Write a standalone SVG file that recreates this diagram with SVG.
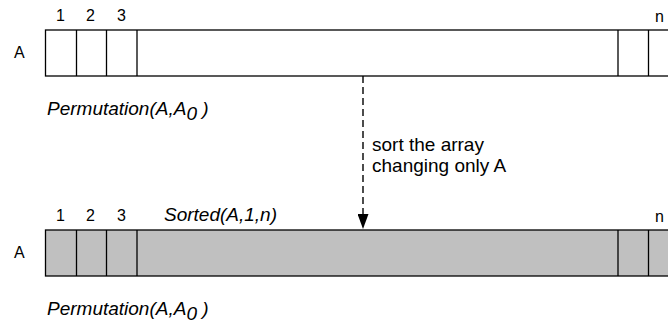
<svg xmlns="http://www.w3.org/2000/svg" width="668" height="324" viewBox="0 0 668 324">
  <style>
    .lbl { font-family: "Liberation Sans", Arial, sans-serif; font-size: 16px; fill: #000; }
    .note { font-family: "Liberation Sans", Arial, sans-serif; font-size: 19px; fill: #000; }
    .it { font-family: "Liberation Sans", Arial, sans-serif; font-style: italic; font-size: 19px; fill: #000; }
    .cell { stroke: #000; stroke-width: 1.3; }
    .empty { fill: #fff; }
    .sorted { fill: #c0c0c0; }
    .conn { stroke: #000; stroke-width: 1.4; fill: none; stroke-dasharray: 7 4; }
  </style>
  <defs>
    <marker id="arrow" markerWidth="15" markerHeight="11" refX="15" refY="5.5" orient="auto" markerUnits="userSpaceOnUse" viewBox="0 0 15 11">
      <path d="M0,0 L15,5.5 L0,11 Z" fill="#000"/>
    </marker>
  </defs>

  <!-- Array before sorting -->
  <g id="array-before">
    <rect class="cell empty" x="45.5" y="30" width="640" height="46"/>
    <line class="cell" x1="76.5" y1="30" x2="76.5" y2="76"/>
    <line class="cell" x1="106.5" y1="30" x2="106.5" y2="76"/>
    <line class="cell" x1="137" y1="30" x2="137" y2="76"/>
    <line class="cell" x1="618" y1="30" x2="618" y2="76"/>
    <line class="cell" x1="648.5" y1="30" x2="648.5" y2="76"/>
    <text class="lbl" x="14" y="58">A</text>
    <text class="lbl" x="56" y="21">1</text>
    <text class="lbl" x="86" y="21">2</text>
    <text class="lbl" x="117" y="21">3</text>
    <text class="lbl" x="655" y="22">n</text>
    <text class="it" x="47" y="115">Permutation(A,A<tspan dy="5">0</tspan><tspan dy="-5"> )</tspan></text>
  </g>

  <!-- Array after sorting -->
  <g id="array-after">
    <rect class="cell sorted" x="45.5" y="230" width="640" height="46"/>
    <line class="cell" x1="76.5" y1="230" x2="76.5" y2="276"/>
    <line class="cell" x1="106.5" y1="230" x2="106.5" y2="276"/>
    <line class="cell" x1="137" y1="230" x2="137" y2="276"/>
    <line class="cell" x1="618" y1="230" x2="618" y2="276"/>
    <line class="cell" x1="648.5" y1="230" x2="648.5" y2="276"/>
    <text class="lbl" x="14" y="258">A</text>
    <text class="lbl" x="56" y="221">1</text>
    <text class="lbl" x="86" y="221">2</text>
    <text class="lbl" x="117" y="221">3</text>
    <text class="lbl" x="655" y="222">n</text>
    <text class="it" x="164" y="221">Sorted(A,1,n)</text>
    <text class="it" x="47" y="315">Permutation(A,A<tspan dy="5">0</tspan><tspan dy="-5"> )</tspan></text>
  </g>

  <!-- Sorting step -->
  <g id="connectors">
    <line class="conn" x1="363" y1="76" x2="363" y2="229" marker-end="url(#arrow)"/>
    <text class="note" x="372" y="151">sort the array</text>
    <text class="note" x="372" y="172">changing only A</text>
  </g>
</svg>
